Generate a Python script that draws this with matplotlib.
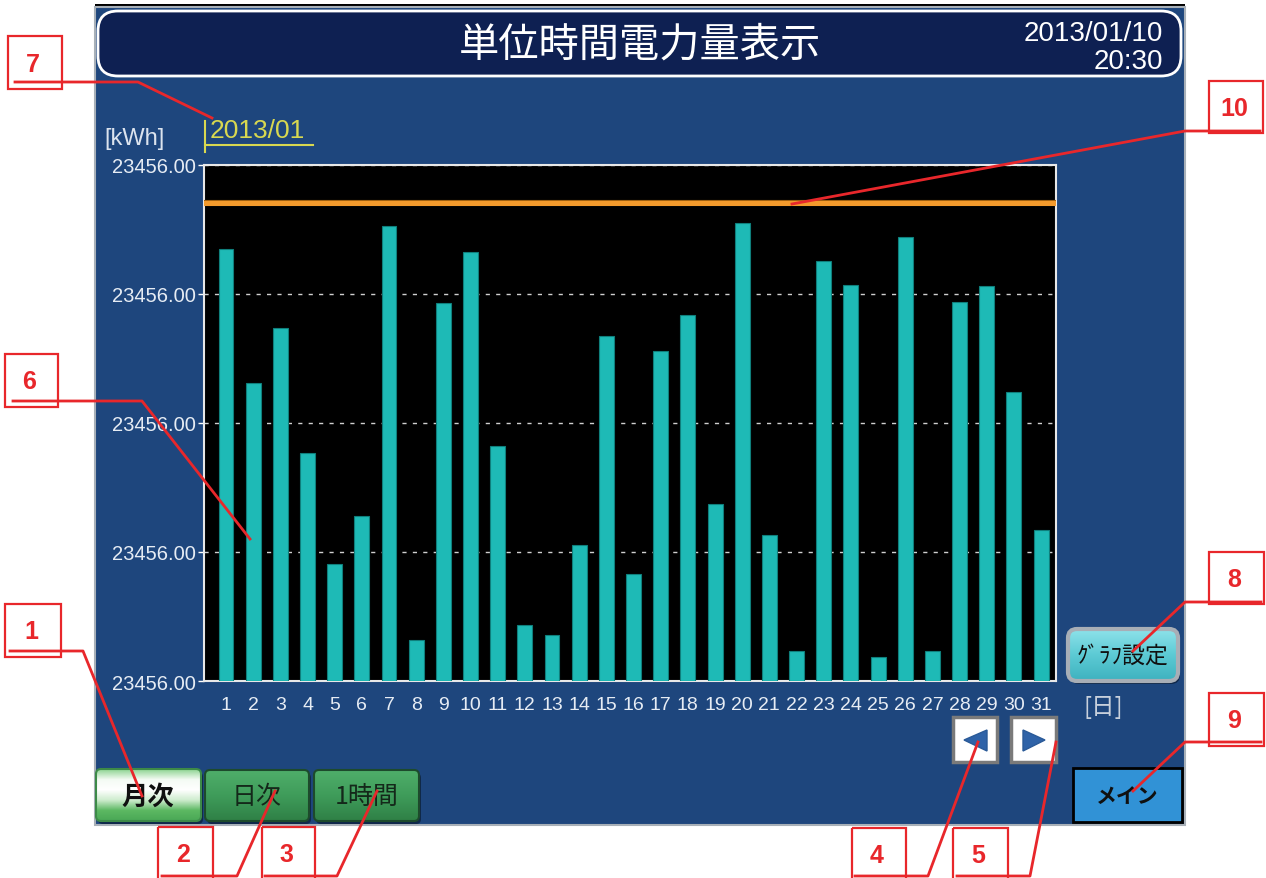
import matplotlib
matplotlib.use('Agg')
import matplotlib.pyplot as plt
import matplotlib.font_manager as fm
import matplotlib.patheffects as pe
from matplotlib.patches import Rectangle, FancyBboxPatch, Polygon
from matplotlib.colors import LinearSegmentedColormap
import numpy as np

# data
days = list(range(1, 32))
energy = [83.7, 57.8, 68.4, 44.2, 22.7, 32.0, 88.2, 7.9, 73.3, 83.1, 45.5,
          10.9, 8.9, 26.4, 66.9, 20.7, 64.0, 70.9, 34.3, 88.8, 28.3, 5.8,
          81.4, 76.7, 4.7, 86.0, 5.8, 73.4, 76.6, 56.0, 29.3]
limit = 92.6
yticks = [0, 25, 50, 75, 100]
ytick_labels = ['23456.00'] * 5
title = '単位時間電力量表示'
date_str = '2013/01/10'
time_str = '20:30'
month_str = '2013/01'
unit_label = '[kWh]'
day_label = '[日]'

W, H = 1266, 879


def pick(*names):
    for n in names:
        try:
            fm.findfont(n, fallback_to_default=False)
            return n
        except ValueError:
            pass
    return 'DejaVu Sans'


narrow = pick('Liberation Sans Narrow', 'Liberation Sans')
bold = pick('Liberation Sans', 'DejaVu Sans')
jp = 'Noto Sans CJK JP'

fig = plt.figure(figsize=(W / 100, H / 100), dpi=100)
fig.patch.set_facecolor('white')

# background panel and title bar (pixel coordinates)
bg = fig.add_axes([0, 0, 1, 1], zorder=0)
bg.set_xlim(0, W)
bg.set_ylim(H, 0)
bg.axis('off')
bg.add_patch(Rectangle((95, 5), 1090, 3, fc='black', ec='none'))
bg.add_patch(Rectangle((95, 8), 1090, 818, fc='#1e467d', ec='#a8b0b8', lw=1.5))
bg.add_patch(FancyBboxPatch((98, 12), 1083, 65, boxstyle='round,pad=0,rounding_size=20',
                            fc='#0e2052', ec='white', lw=2))
bg.text(640, 45, title, color='white', fontsize=29, family=jp, ha='center', va='center')
bg.text(1163, 34, date_str, color='white', fontsize=20, family=narrow, ha='right', va='center')
bg.text(1163, 62, time_str, color='white', fontsize=20, family=narrow, ha='right', va='center')

# chart
ax = fig.add_axes([204 / W, 1 - 682 / H, 852 / W, 516 / H], zorder=2)
ax.set_facecolor('black')
ax.bar(days, energy, width=0.55, color='#1ebab6', edgecolor='#0f7f7c', lw=0.8, zorder=3)
ax.axhline(limit, color='#f39a2c', lw=3.6, zorder=4,
           path_effects=[pe.Stroke(linewidth=4.4, foreground='#a0600f'), pe.Normal()])
ax.set_xlim(0.19, 31.55)
ax.set_ylim(0, 100)
ax.set_yticks(yticks)
ax.set_yticklabels(ytick_labels)
ax.set_xticks(days)
ax.set_xticklabels([str(d) for d in days])
ax.yaxis.grid(True, color='#cfcfcf', ls=(0, (3, 4.5)), lw=1)
ax.set_axisbelow(True)
ax.tick_params(axis='y', colors='white', length=4, width=1, pad=2, labelcolor='#e6ecf4', labelsize=14.5)
ax.tick_params(axis='x', length=0, pad=11, labelcolor='#e6ecf4', labelsize=14)
for lab in ax.get_xticklabels() + ax.get_yticklabels():
    lab.set_family(narrow)
for s in ax.spines.values():
    s.set_color('#e8e8e8')
    s.set_linewidth(1.5)

# overlay: labels, buttons, callouts
ui = fig.add_axes([0, 0, 1, 1], zorder=5)
ui.set_facecolor('none')
ui.axis('off')

ui.text(135, 139, unit_label, color='#dbe3ee', fontsize=17, family=narrow, ha='center', va='center')
ui.text(210, 131, month_str, color='#d8d850', fontsize=19, family=narrow, ha='left', va='center')
ui.plot([205, 313], [146, 146], color='#d8d850', lw=1.5)
ui.plot([205, 205], [122, 153], color='#d8d850', lw=1.5)
ui.text(1103, 708, day_label, color='#c8d0dc', fontsize=17, family=jp, ha='center', va='center')


def button(x0, y0, x1, y1, colors, edge, r=5, lw=1.5, shadow=True):
    if shadow:
        ui.add_patch(FancyBboxPatch((x0 + 2, y0 + 3), x1 - x0, y1 - y0,
                                    boxstyle=f'round,pad=0,rounding_size={r}',
                                    fc='#10284a', ec='none', zorder=1))
    patch = FancyBboxPatch((x0, y0), x1 - x0, y1 - y0, boxstyle=f'round,pad=0,rounding_size={r}',
                           fc='none', ec=edge, lw=lw, zorder=3)
    ui.add_patch(patch)
    cmap = LinearSegmentedColormap.from_list('b', colors)
    im = ui.imshow(np.linspace(0, 1, 100)[:, None], extent=(x0, x1, y1, y0), cmap=cmap,
                   aspect='auto', zorder=2, interpolation='bilinear')
    im.set_clip_path(patch)


button(96, 770, 201, 822, ['#8fd492', '#f4fbf4', '#ffffff', '#cdeccd', '#5cb862', '#4aa856'], '#3d8a48')
ui.text(148, 797, '月次', color='#101010', fontsize=19, family=jp, weight='bold', ha='center', va='center')
button(205, 771, 309, 822, ['#4fae6a', '#3f9c5a', '#2f8046'], '#1d4a2c')
ui.text(257, 797, '日次', color='#14281a', fontsize=18, family=jp, ha='center', va='center')
button(314, 771, 419, 822, ['#4fae6a', '#3f9c5a', '#2f8046'], '#1d4a2c')
ui.text(367, 797, '1時間', color='#14281a', fontsize=18, family=jp, ha='center', va='center')

# arrow buttons
ui.add_patch(Rectangle((953, 718), 44, 45, fc='white', ec='#7a7a7a', lw=2.5, zorder=3))
ui.add_patch(Rectangle((1011, 718), 45, 45, fc='white', ec='#7a7a7a', lw=2.5, zorder=3))
ui.add_patch(Polygon([(964, 741), (987, 731), (987, 752)], fc='#2f63a8', ec='#2a5a98', zorder=4))
ui.add_patch(Polygon([(1045, 741), (1023, 731), (1023, 752)], fc='#2f63a8', ec='#2a5a98', zorder=4))

button(1068, 630, 1178, 682, ['#8ee2ea', '#5ccad4', '#3eb2bf'], '#a8aeb6', r=9, lw=3)
ui.text(1123, 656, 'ｸﾞﾗﾌ設定', color='#101010', fontsize=16.5, family=jp, ha='center', va='center')
ui.add_patch(Rectangle((1073, 769), 109, 54, fc='#3192d6', ec='black', lw=2, zorder=3))
ui.text(1127, 796, 'メイン', color='#101010', fontsize=15, family=jp, weight='bold',
        ha='center', va='center', zorder=4)

# numbered callouts
red = '#e8272b'
callouts = [
    ('1', (5, 605, 61, 658), [(10, 652), (83, 652), (142, 797)]),
    ('2', (158, 828, 213, 881), [(162, 877), (237, 877), (275, 792)]),
    ('3', (262, 828, 315, 881), [(265, 877), (337, 877), (377, 792)]),
    ('4', (852, 829, 906, 881), [(855, 877), (928, 877), (978, 743)]),
    ('5', (953, 829, 1008, 881), [(957, 877), (1030, 877), (1056, 743)]),
    ('6', (5, 355, 58, 408), [(13, 402), (142, 402), (250, 540)]),
    ('7', (8, 37, 62, 90), [(15, 83), (138, 83), (212, 119)]),
    ('8', (1209, 553, 1264, 605), [(1261, 603), (1185, 603), (1133, 652)]),
    ('9', (1209, 694, 1264, 747), [(1261, 743), (1185, 743), (1133, 792)]),
    ('10', (1209, 82, 1263, 134), [(1260, 132), (1185, 132), (792, 205)]),
]
for num, (x0, y0, x1, y1), pts in callouts:
    ui.add_patch(Rectangle((x0, y0), x1 - x0, y1 - y0, fc='none', ec=red, lw=1.6, zorder=6))
    xs, ys = zip(*pts)
    ui.plot(xs, ys, color=red, lw=2, zorder=7)
    ui.text((x0 + x1) / 2 - 2, (y0 + y1) / 2 + 1, num, color=red, fontsize=18, family=bold,
            weight='bold', ha='center', va='center', zorder=7)

ui.set_xlim(0, W)
ui.set_ylim(H, 0)

fig.savefig('out.png', dpi=100)
